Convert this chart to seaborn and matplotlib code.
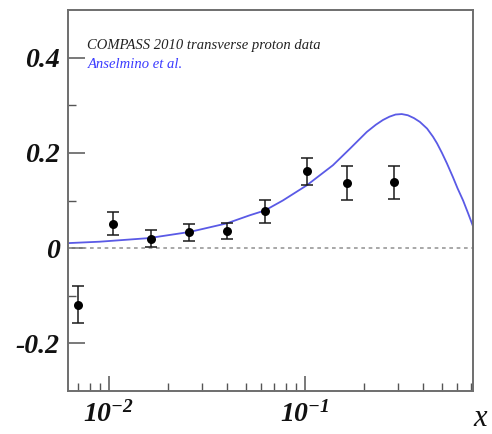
import numpy as np
import pandas as pd
import matplotlib
matplotlib.use("Agg")
import matplotlib.pyplot as plt
from matplotlib.ticker import FixedLocator, NullFormatter
import seaborn as sns

# COMPASS 2010 transverse proton data (x bins, asymmetry, stat. error)
x_data = [0.0070, 0.0105, 0.0164, 0.0256, 0.040, 0.063, 0.102, 0.164, 0.284]
y_data = [-0.119, 0.051, 0.020, 0.033, 0.036, 0.077, 0.161, 0.137, 0.138]
y_err = [0.039, 0.024, 0.018, 0.017, 0.017, 0.024, 0.029, 0.036, 0.035]

# Anselmino et al. model curve
x_model = [0.0062, 0.009, 0.016, 0.0259, 0.040, 0.0524, 0.0625, 0.0772, 0.1024,
           0.115, 0.139, 0.170, 0.207, 0.230, 0.250, 0.270, 0.290, 0.312,
           0.335, 0.360, 0.386, 0.420, 0.450, 0.472, 0.500, 0.530, 0.569,
           0.600, 0.641, 0.680, 0.72]
y_model = [0.0105, 0.0135, 0.021, 0.034, 0.052, 0.069, 0.079, 0.100, 0.132,
           0.148, 0.174, 0.209, 0.244, 0.259, 0.269, 0.276, 0.2805, 0.2815,
           0.279, 0.273, 0.265, 0.251, 0.234, 0.220, 0.200, 0.178, 0.149,
           0.126, 0.100, 0.073, 0.046]

y_ticks = [-0.2, 0, 0.2, 0.4]
y_ticklabels = ["-0.2", "0", "0.2", "0.4"]
x_ticks = [0.01, 0.1]
x_ticklabels = [r"$10^{-2}$", r"$10^{-1}$"]

sns.set_style("white")
plt.rcParams["font.family"] = ["Liberation Serif", "DejaVu Serif"]
plt.rcParams["mathtext.fontset"] = "custom"
plt.rcParams["mathtext.rm"] = "Liberation Serif:bold:italic"
plt.rcParams["mathtext.it"] = "Liberation Serif:bold:italic"
plt.rcParams["mathtext.bf"] = "Liberation Serif:bold:italic"

fig = plt.figure(figsize=(4.92, 4.34), dpi=100)
ax = fig.add_axes([68 / 492, 1 - 391 / 434, (473 - 68) / 492, (391 - 10) / 434])

data = pd.DataFrame({"x": x_data, "y": y_data, "err": y_err})
model = pd.DataFrame({"x": x_model, "y": y_model})

ax.set_xscale("log")
ax.set_xlim(0.0062, 0.72)
ax.set_ylim(-0.3, 0.5)

ax.axhline(0, color="#9a9a9a", lw=1.2, ls=(0, (2.2, 2.2)), zorder=1)

sns.lineplot(data=model, x="x", y="y", ax=ax, color="#5a5ae6", lw=1.3,
             zorder=2, legend=False)
ax.errorbar(data["x"], data["y"], yerr=data["err"], fmt="none",
            ecolor="#1a1a1a", elinewidth=1.1, capsize=4.0, capthick=1.1,
            zorder=3)
sns.scatterplot(data=data, x="x", y="y", ax=ax, color="black", s=42,
                edgecolor="black", linewidth=0, zorder=4, legend=False)

# frame
for side in ["left", "right", "top", "bottom"]:
    ax.spines[side].set_visible(True)
    ax.spines[side].set_color("#6e6e6e")
    ax.spines[side].set_linewidth(1.4)

# y ticks
ax.yaxis.set_major_locator(FixedLocator(y_ticks))
ax.set_yticklabels(y_ticklabels)
ax.yaxis.set_minor_locator(FixedLocator([-0.1, 0.1, 0.3]))
ax.tick_params(axis="y", which="major", direction="in", length=12, width=1.1,
               color="#555555", left=True, right=False, pad=6,
               labelsize=20)
ax.tick_params(axis="y", which="minor", direction="in", length=6, width=1.0,
               color="#555555", left=True, right=False)

# x ticks
ax.xaxis.set_major_locator(FixedLocator(x_ticks))
ax.set_xticklabels(x_ticklabels)
minor_x = [m * d for d in (0.001, 0.01, 0.1) for m in range(2, 10)]
ax.xaxis.set_minor_locator(FixedLocator(minor_x))
ax.xaxis.set_minor_formatter(NullFormatter())
ax.tick_params(axis="x", which="major", direction="in", length=11, width=1.1,
               color="#555555", bottom=True, top=False, pad=7,
               labelsize=20)
ax.tick_params(axis="x", which="minor", direction="in", length=6, width=1.0,
               color="#555555", bottom=True, top=False)

for lab in ax.get_yticklabels() + ax.get_xticklabels():
    lab.set_fontweight("bold")
    lab.set_fontstyle("italic")
    lab.set_color("#111111")

ax.set_xlabel("")
ax.set_ylabel("")
fig.text(480 / 492, 1 - 419 / 434, "x", ha="center", va="center",
         fontsize=22, fontstyle="italic", color="#111111")

ax.text(0.048, 0.908, "COMPASS 2010 transverse proton data",
        transform=ax.transAxes, fontsize=10.5, fontstyle="italic",
        color="#222222", va="center", ha="left")
ax.text(0.048, 0.858, "Anselmino et al.",
        transform=ax.transAxes, fontsize=10.5, fontstyle="italic",
        color="#3a3aff", va="center", ha="left")

fig.savefig("out.png", dpi=100)
